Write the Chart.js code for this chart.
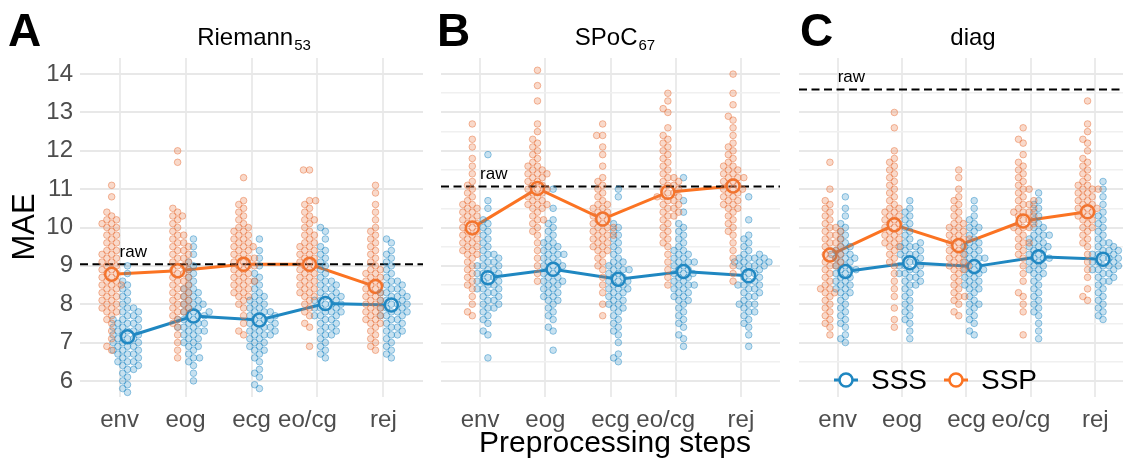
<!DOCTYPE html>
<html>
<head>
<meta charset="utf-8">
<script src="https://cdn.jsdelivr.net/npm/chart.js@4.4.1/dist/chart.umd.min.js"></script>
<style>
    html, body { margin: 0; padding: 0; background: #fff; overflow: hidden; }
    #wrap { position: relative; width: 1132px; height: 460px; }
    canvas { position: absolute; top: 0; }
</style>
</head>
<body>
<div id="wrap">
    <canvas id="panel-a" width="432" height="460" style="left:0"></canvas>
    <canvas id="panel-b" width="357" height="460" style="left:432px"></canvas>
    <canvas id="panel-c" width="342" height="460" style="left:790px"></canvas>
</div>
<script>
const steps = ['env', 'eog', 'ecg', 'eo/cg', 'rej'];
const yTicks = [6, 6.5, 7, 7.5, 8, 8.5, 9, 9.5, 10, 10.5, 11, 11.5, 12, 12.5, 13, 13.5, 14];

// per-subject MAE, one list per preprocessing step (env, eog, ecg, eo/cg, rej)
const riemannSSP = [
    [6.8, 6.9, 7.1, 7.3, 7.5, 7.6, 7.7, 7.8, 7.8, 7.9, 7.9, 8.0, 8.0, 8.1, 8.1, 8.2, 8.2, 8.3, 8.3, 8.4, 8.4, 8.5, 8.5, 8.5, 8.6, 8.6, 8.7, 8.7, 8.8, 8.8, 8.9, 8.9, 9.0, 9.0, 9.1, 9.1, 9.2, 9.2, 9.3, 9.3, 9.4, 9.4, 9.5, 9.6, 9.6, 9.7, 9.8, 9.8, 9.9, 10.0, 10.0, 10.1, 10.1, 10.2, 10.2, 10.3, 10.4, 10.8, 11.1],
    [6.6, 6.8, 7.0, 7.2, 7.4, 7.5, 7.6, 7.7, 7.8, 7.8, 7.9, 7.9, 8.0, 8.0, 8.1, 8.1, 8.2, 8.2, 8.3, 8.3, 8.4, 8.4, 8.5, 8.5, 8.6, 8.6, 8.7, 8.7, 8.8, 8.8, 8.9, 8.9, 9.0, 9.0, 9.1, 9.1, 9.2, 9.2, 9.3, 9.3, 9.4, 9.4, 9.5, 9.5, 9.6, 9.6, 9.7, 9.8, 9.8, 9.9, 10.0, 10.1, 10.2, 10.3, 10.3, 10.4, 10.5, 11.7, 12.0],
    [7.2, 7.3, 7.5, 7.7, 7.9, 8.0, 8.1, 8.2, 8.2, 8.3, 8.3, 8.4, 8.4, 8.5, 8.5, 8.6, 8.6, 8.6, 8.7, 8.7, 8.8, 8.8, 8.9, 8.9, 9.0, 9.0, 9.0, 9.1, 9.1, 9.2, 9.2, 9.2, 9.3, 9.3, 9.4, 9.4, 9.5, 9.5, 9.5, 9.6, 9.6, 9.7, 9.7, 9.8, 9.8, 9.9, 9.9, 10.0, 10.0, 10.1, 10.2, 10.3, 10.4, 10.5, 10.6, 10.7, 11.3],
    [6.9, 7.4, 7.5, 7.7, 7.8, 7.9, 8.0, 8.1, 8.2, 8.2, 8.3, 8.3, 8.4, 8.4, 8.5, 8.5, 8.6, 8.6, 8.7, 8.7, 8.8, 8.8, 8.9, 8.9, 9.0, 9.0, 9.1, 9.1, 9.2, 9.2, 9.3, 9.3, 9.4, 9.4, 9.5, 9.5, 9.6, 9.6, 9.7, 9.8, 9.8, 9.9, 10.0, 10.1, 10.2, 10.2, 10.3, 10.4, 10.5, 10.6, 10.7, 10.7, 11.5, 11.5],
    [6.8, 6.9, 7.0, 7.1, 7.2, 7.3, 7.4, 7.5, 7.5, 7.6, 7.6, 7.7, 7.7, 7.8, 7.8, 7.9, 7.9, 8.0, 8.0, 8.1, 8.1, 8.2, 8.2, 8.3, 8.3, 8.4, 8.4, 8.5, 8.5, 8.6, 8.6, 8.7, 8.7, 8.8, 8.8, 8.9, 8.9, 9.0, 9.1, 9.2, 9.3, 9.4, 9.5, 9.6, 9.7, 9.8, 9.9, 10.0, 10.2, 10.4, 10.6, 10.9, 11.1],
];
const riemannSSS = [
    [5.7, 5.8, 5.9, 6.0, 6.1, 6.2, 6.3, 6.3, 6.4, 6.4, 6.5, 6.5, 6.5, 6.6, 6.6, 6.7, 6.7, 6.7, 6.8, 6.8, 6.8, 6.9, 6.9, 6.9, 7.0, 7.0, 7.0, 7.1, 7.1, 7.1, 7.2, 7.2, 7.2, 7.3, 7.3, 7.3, 7.4, 7.4, 7.4, 7.5, 7.5, 7.5, 7.6, 7.6, 7.6, 7.7, 7.7, 7.8, 7.8, 7.9, 7.9, 8.0, 8.1, 8.2, 8.3, 8.4, 8.5, 8.6, 8.8, 9.0],
    [6.0, 6.2, 6.4, 6.5, 6.6, 6.6, 6.7, 6.8, 6.9, 6.9, 7.0, 7.0, 7.1, 7.1, 7.2, 7.2, 7.3, 7.3, 7.3, 7.4, 7.4, 7.4, 7.5, 7.5, 7.5, 7.6, 7.6, 7.6, 7.7, 7.7, 7.7, 7.8, 7.8, 7.8, 7.9, 7.9, 8.0, 8.0, 8.0, 8.1, 8.1, 8.2, 8.2, 8.3, 8.3, 8.4, 8.4, 8.5, 8.6, 8.7, 8.8, 8.9, 9.0, 9.1, 9.3, 9.5, 9.7],
    [5.8, 5.9, 6.1, 6.2, 6.3, 6.5, 6.6, 6.7, 6.8, 6.8, 6.9, 6.9, 7.0, 7.0, 7.1, 7.1, 7.2, 7.2, 7.2, 7.3, 7.3, 7.3, 7.4, 7.4, 7.4, 7.5, 7.5, 7.5, 7.6, 7.6, 7.6, 7.7, 7.7, 7.7, 7.8, 7.8, 7.8, 7.9, 7.9, 8.0, 8.0, 8.1, 8.1, 8.2, 8.2, 8.3, 8.4, 8.5, 8.6, 8.7, 8.8, 9.0, 9.2, 9.4, 9.7],
    [6.6, 6.7, 6.8, 6.9, 7.0, 7.1, 7.2, 7.2, 7.3, 7.3, 7.4, 7.4, 7.5, 7.5, 7.6, 7.6, 7.7, 7.7, 7.7, 7.8, 7.8, 7.8, 7.9, 7.9, 7.9, 8.0, 8.0, 8.0, 8.1, 8.1, 8.1, 8.2, 8.2, 8.2, 8.3, 8.3, 8.4, 8.4, 8.5, 8.5, 8.6, 8.6, 8.7, 8.8, 8.9, 9.0, 9.1, 9.2, 9.3, 9.4, 9.5, 9.7, 9.9, 10.0],
    [6.6, 6.7, 6.8, 6.9, 7.0, 7.1, 7.2, 7.2, 7.3, 7.3, 7.4, 7.4, 7.5, 7.5, 7.6, 7.6, 7.7, 7.7, 7.7, 7.8, 7.8, 7.8, 7.9, 7.9, 7.9, 8.0, 8.0, 8.0, 8.1, 8.1, 8.1, 8.2, 8.2, 8.2, 8.3, 8.3, 8.3, 8.4, 8.4, 8.5, 8.5, 8.6, 8.6, 8.7, 8.8, 8.9, 9.0, 9.1, 9.2, 9.3, 9.4, 9.6, 9.7],
];
const spocSSP = [
    [7.7, 7.8, 8.0, 8.2, 8.4, 8.5, 8.6, 8.7, 8.8, 8.9, 9.0, 9.1, 9.2, 9.3, 9.3, 9.4, 9.4, 9.5, 9.5, 9.6, 9.6, 9.7, 9.7, 9.8, 9.8, 9.9, 9.9, 10.0, 10.0, 10.1, 10.1, 10.2, 10.2, 10.3, 10.3, 10.4, 10.4, 10.5, 10.5, 10.6, 10.6, 10.7, 10.8, 10.9, 11.0, 11.1, 11.2, 11.4, 11.6, 11.8, 12.1, 12.3, 12.7],
    [8.6, 8.8, 9.0, 9.2, 9.4, 9.6, 9.8, 9.9, 10.0, 10.1, 10.2, 10.2, 10.3, 10.4, 10.5, 10.5, 10.6, 10.6, 10.6, 10.7, 10.7, 10.8, 10.8, 10.9, 10.9, 11.0, 11.0, 11.0, 11.1, 11.1, 11.2, 11.2, 11.3, 11.3, 11.4, 11.4, 11.4, 11.5, 11.5, 11.6, 11.6, 11.7, 11.8, 11.9, 12.0, 12.1, 12.2, 12.3, 12.5, 12.7, 13.3, 13.7, 14.1],
    [7.7, 8.0, 8.3, 8.5, 8.7, 8.9, 9.0, 9.1, 9.2, 9.3, 9.4, 9.4, 9.5, 9.5, 9.6, 9.6, 9.7, 9.7, 9.8, 9.8, 9.8, 9.9, 9.9, 10.0, 10.0, 10.0, 10.1, 10.1, 10.2, 10.2, 10.3, 10.3, 10.4, 10.4, 10.5, 10.5, 10.6, 10.6, 10.7, 10.8, 10.9, 11.0, 11.1, 11.2, 11.3, 11.6, 11.9, 12.1, 12.4, 12.4, 12.7],
    [8.5, 8.7, 8.9, 9.1, 9.3, 9.5, 9.6, 9.7, 9.8, 9.9, 10.0, 10.1, 10.2, 10.3, 10.3, 10.4, 10.4, 10.5, 10.5, 10.6, 10.6, 10.7, 10.7, 10.8, 10.8, 10.8, 10.9, 10.9, 11.0, 11.0, 11.1, 11.1, 11.2, 11.2, 11.3, 11.3, 11.4, 11.5, 11.6, 11.7, 11.8, 11.9, 12.0, 12.1, 12.2, 12.3, 12.4, 12.6, 13.0, 13.1, 13.3, 13.5],
    [8.6, 8.8, 9.0, 9.2, 9.4, 9.6, 9.8, 9.9, 10.0, 10.1, 10.2, 10.3, 10.4, 10.5, 10.5, 10.6, 10.6, 10.7, 10.7, 10.8, 10.8, 10.9, 10.9, 11.0, 11.0, 11.0, 11.1, 11.1, 11.2, 11.2, 11.3, 11.3, 11.3, 11.4, 11.4, 11.5, 11.5, 11.6, 11.6, 11.7, 11.8, 11.9, 12.0, 12.1, 12.2, 12.4, 12.6, 12.8, 12.9, 13.2, 13.5, 14.0],
];
const spocSSS = [
    [6.6, 7.2, 7.3, 7.5, 7.6, 7.7, 7.8, 7.9, 7.9, 8.0, 8.0, 8.1, 8.1, 8.2, 8.2, 8.3, 8.3, 8.4, 8.4, 8.4, 8.5, 8.5, 8.6, 8.6, 8.6, 8.7, 8.7, 8.8, 8.8, 8.8, 8.9, 8.9, 9.0, 9.0, 9.0, 9.1, 9.1, 9.2, 9.2, 9.3, 9.3, 9.4, 9.5, 9.6, 9.7, 9.8, 9.9, 10.0, 10.1, 10.2, 10.5, 10.7, 11.9],
    [6.8, 7.3, 7.4, 7.6, 7.7, 7.8, 7.9, 8.0, 8.1, 8.1, 8.2, 8.2, 8.3, 8.3, 8.4, 8.4, 8.5, 8.5, 8.6, 8.6, 8.6, 8.7, 8.7, 8.8, 8.8, 8.9, 8.9, 9.0, 9.0, 9.0, 9.1, 9.1, 9.2, 9.2, 9.3, 9.3, 9.3, 9.4, 9.4, 9.5, 9.5, 9.6, 9.6, 9.7, 9.8, 9.9, 10.0, 10.1, 10.2, 10.5, 11.0],
    [6.5, 6.6, 6.7, 7.0, 7.2, 7.3, 7.4, 7.5, 7.6, 7.7, 7.8, 7.9, 7.9, 8.0, 8.0, 8.1, 8.1, 8.2, 8.2, 8.3, 8.3, 8.4, 8.4, 8.4, 8.5, 8.5, 8.6, 8.6, 8.6, 8.7, 8.7, 8.8, 8.8, 8.9, 8.9, 8.9, 9.0, 9.0, 9.1, 9.1, 9.2, 9.3, 9.4, 9.5, 9.6, 9.7, 9.8, 9.9, 10.0, 10.1, 10.8, 11.0],
    [6.9, 7.1, 7.2, 7.4, 7.5, 7.6, 7.7, 7.8, 7.9, 8.0, 8.1, 8.1, 8.2, 8.2, 8.3, 8.3, 8.4, 8.4, 8.5, 8.5, 8.5, 8.6, 8.6, 8.7, 8.7, 8.8, 8.8, 8.8, 8.9, 8.9, 9.0, 9.0, 9.1, 9.1, 9.1, 9.2, 9.2, 9.3, 9.3, 9.4, 9.4, 9.5, 9.6, 9.7, 9.8, 9.9, 10.0, 10.1, 10.4, 10.7, 11.3],
    [6.9, 7.2, 7.4, 7.5, 7.6, 7.7, 7.8, 7.8, 7.9, 8.0, 8.0, 8.0, 8.1, 8.2, 8.2, 8.3, 8.3, 8.4, 8.4, 8.5, 8.5, 8.5, 8.6, 8.6, 8.7, 8.7, 8.8, 8.8, 8.9, 8.9, 9.0, 9.0, 9.0, 9.0, 9.1, 9.1, 9.1, 9.1, 9.2, 9.2, 9.2, 9.2, 9.3, 9.3, 9.4, 9.5, 9.6, 9.7, 9.8, 10.2, 10.8],
];
const diagSSP = [
    [7.2, 7.4, 7.5, 7.6, 7.7, 7.8, 7.9, 8.0, 8.1, 8.2, 8.3, 8.3, 8.4, 8.4, 8.5, 8.6, 8.7, 8.8, 8.9, 9.0, 9.0, 9.1, 9.1, 9.2, 9.2, 9.3, 9.3, 9.4, 9.4, 9.5, 9.5, 9.6, 9.6, 9.7, 9.7, 9.8, 9.8, 9.9, 9.9, 10.0, 10.0, 10.1, 10.2, 10.3, 10.4, 10.5, 10.6, 10.7, 11.0, 11.7],
    [7.4, 7.6, 7.9, 8.2, 8.4, 8.6, 8.8, 9.0, 9.1, 9.2, 9.3, 9.4, 9.5, 9.5, 9.6, 9.6, 9.7, 9.7, 9.8, 9.8, 9.9, 9.9, 10.0, 10.0, 10.1, 10.1, 10.2, 10.2, 10.3, 10.3, 10.4, 10.4, 10.5, 10.5, 10.6, 10.7, 10.8, 10.9, 11.0, 11.1, 11.2, 11.3, 11.4, 11.5, 11.6, 11.7, 11.8, 12.0, 12.6, 13.0],
    [7.7, 7.8, 8.0, 8.1, 8.2, 8.2, 8.3, 8.4, 8.5, 8.6, 8.7, 8.8, 8.9, 8.9, 9.0, 9.0, 9.0, 9.1, 9.1, 9.2, 9.2, 9.3, 9.3, 9.4, 9.4, 9.5, 9.5, 9.6, 9.6, 9.7, 9.7, 9.7, 9.8, 9.8, 9.9, 9.9, 10.0, 10.0, 10.1, 10.1, 10.2, 10.3, 10.4, 10.5, 10.6, 10.7, 10.8, 11.0, 11.3, 11.5],
    [7.2, 7.8, 8.0, 8.2, 8.3, 8.6, 8.8, 9.0, 9.2, 9.3, 9.4, 9.5, 9.6, 9.6, 9.7, 9.8, 9.9, 10.0, 10.0, 10.0, 10.1, 10.1, 10.2, 10.2, 10.3, 10.3, 10.4, 10.4, 10.4, 10.5, 10.5, 10.6, 10.6, 10.7, 10.7, 10.8, 10.9, 11.0, 11.0, 11.1, 11.2, 11.3, 11.4, 11.5, 11.6, 11.7, 11.9, 12.2, 12.3, 12.6],
    [8.1, 8.2, 8.4, 8.7, 8.9, 9.1, 9.3, 9.5, 9.6, 9.7, 9.8, 9.9, 10.0, 10.0, 10.1, 10.2, 10.2, 10.3, 10.3, 10.4, 10.4, 10.5, 10.5, 10.5, 10.6, 10.6, 10.7, 10.7, 10.8, 10.8, 10.9, 10.9, 11.0, 11.0, 11.0, 11.1, 11.1, 11.2, 11.3, 11.4, 11.5, 11.6, 11.7, 11.8, 12.0, 12.2, 12.3, 12.5, 12.7, 13.3],
];
const diagSSS = [
    [7.0, 7.1, 7.2, 7.4, 7.5, 7.6, 7.7, 7.8, 7.9, 8.0, 8.1, 8.2, 8.3, 8.3, 8.4, 8.4, 8.5, 8.5, 8.6, 8.6, 8.7, 8.7, 8.8, 8.8, 8.9, 8.9, 8.9, 9.0, 9.0, 9.1, 9.1, 9.2, 9.2, 9.2, 9.3, 9.3, 9.3, 9.4, 9.4, 9.5, 9.5, 9.6, 9.7, 9.8, 9.9, 10.0, 10.1, 10.3, 10.5, 10.8],
    [7.1, 7.3, 7.5, 7.6, 7.7, 7.8, 7.9, 8.0, 8.1, 8.2, 8.3, 8.4, 8.5, 8.5, 8.6, 8.6, 8.7, 8.7, 8.8, 8.8, 8.8, 8.9, 8.9, 9.0, 9.0, 9.0, 9.1, 9.1, 9.2, 9.2, 9.3, 9.3, 9.3, 9.4, 9.4, 9.5, 9.5, 9.5, 9.6, 9.6, 9.7, 9.8, 9.9, 10.0, 10.1, 10.2, 10.3, 10.4, 10.5, 10.7],
    [7.2, 7.3, 7.5, 7.6, 7.7, 7.8, 7.9, 8.0, 8.0, 8.1, 8.2, 8.3, 8.4, 8.4, 8.5, 8.5, 8.6, 8.6, 8.7, 8.7, 8.8, 8.8, 8.9, 8.9, 8.9, 9.0, 9.0, 9.1, 9.1, 9.2, 9.2, 9.2, 9.3, 9.3, 9.4, 9.4, 9.5, 9.5, 9.6, 9.6, 9.7, 9.8, 9.9, 10.0, 10.0, 10.1, 10.2, 10.3, 10.5, 10.7],
    [7.1, 7.3, 7.5, 7.7, 7.8, 7.9, 8.0, 8.1, 8.2, 8.3, 8.4, 8.5, 8.6, 8.7, 8.8, 8.8, 8.9, 8.9, 9.0, 9.0, 9.1, 9.1, 9.2, 9.2, 9.2, 9.3, 9.3, 9.4, 9.4, 9.5, 9.5, 9.5, 9.6, 9.6, 9.7, 9.7, 9.8, 9.8, 9.8, 9.9, 10.0, 10.0, 10.1, 10.2, 10.3, 10.4, 10.5, 10.6, 10.7, 10.9],
    [7.6, 7.7, 7.8, 7.9, 8.0, 8.1, 8.2, 8.3, 8.4, 8.5, 8.6, 8.6, 8.7, 8.7, 8.8, 8.8, 8.9, 8.9, 8.9, 9.0, 9.0, 9.0, 9.1, 9.1, 9.1, 9.2, 9.2, 9.2, 9.3, 9.3, 9.3, 9.4, 9.4, 9.4, 9.5, 9.5, 9.6, 9.6, 9.7, 9.8, 9.9, 10.0, 10.1, 10.2, 10.3, 10.4, 10.6, 10.8, 11.0, 11.2],
];

// averages drawn as the connected white markers
const riemannSSPMean = [8.78, 8.87, 9.04, 9.04, 8.46];
const riemannSSSMean = [7.15, 7.69, 7.59, 8.02, 7.98];
const spocSSPMean = [9.99, 11.02, 10.22, 10.92, 11.08];
const spocSSSMean = [8.69, 8.91, 8.65, 8.85, 8.74];
const diagSSPMean = [9.28, 10.07, 9.53, 10.17, 10.41];
const diagSSSMean = [8.85, 9.08, 8.98, 9.24, 9.17];

// no-preprocessing baseline (dashed line)
const rawRiemann = 9.04;
const rawSpoc = 11.07;
const rawDiag = 13.6;

const FONT = '"Liberation Sans", Arial, Helvetica, sans-serif';
const GREY_TEXT = '#4d4d4d';
const BLUE = '#1f87c1';
const ORANGE = '#fb7322';
const DODGE = 0.12;
const X_MIN = -0.6;
const X_MAX = 4.6;

// beeswarm packing, done in approx pixel units then mapped back to category units
const PX_X = 67;
const PX_Y = 38.35;
const DOT = 6.2;

function swarmOffsets(values) {
    const order = values.map((v, i) => i).sort((a, b) => values[a] - values[b]);
    const placed = [];
    const out = new Array(values.length);
    for (const i of order) {
        const y = values[i] * PX_Y;
        const blocked = [];
        for (const p of placed) {
            const dy = Math.abs(y - p.y);
            if (dy < DOT) {
                const w = Math.sqrt(DOT * DOT - dy * dy);
                blocked.push([p.x - w, p.x + w]);
            }
        }
        const cands = [0];
        blocked.forEach(([a, b]) => cands.push(a, b));
        cands.sort((a, b) => Math.abs(a) - Math.abs(b));
        const x = cands.find((c) => blocked.every(([a, b]) => c <= a + 1e-6 || c >= b - 1e-6));
        placed.push({ x, y });
        out[i] = x / PX_X;
    }
    return out;
}

function swarmPoints(groups, dodge) {
    const pts = [];
    groups.forEach((vals, k) => {
        const off = swarmOffsets(vals);
        vals.forEach((v, i) => pts.push({ x: k + dodge + off[i], y: v }));
    });
    return pts;
}

function meanPoints(means, dodge) {
    return means.map((v, k) => ({ x: k + dodge, y: v }));
}

const panelText = {
    id: 'panelText',
    afterDraw(chart, args, opts) {
        const { ctx, chartArea, scales } = chart;
        ctx.save();
        ctx.fillStyle = '#000';
        ctx.textAlign = 'left';
        ctx.textBaseline = 'alphabetic';

        ctx.font = `bold 46px ${FONT}`;
        ctx.fillText(opts.letter, opts.letterX, 46);

        const cx = chartArea.left + 174;
        ctx.font = `24px ${FONT}`;
        const w1 = ctx.measureText(opts.title).width;
        ctx.font = `15px ${FONT}`;
        const w2 = opts.sub ? ctx.measureText(opts.sub).width + 1 : 0;
        const x0 = cx - (w1 + w2) / 2;
        ctx.font = `24px ${FONT}`;
        ctx.fillText(opts.title, x0, 45);
        if (opts.sub) {
            ctx.font = `15px ${FONT}`;
            ctx.fillText(opts.sub, x0 + w1 + 1, 50);
        }

        ctx.font = `17px ${FONT}`;
        ctx.fillText('raw', scales.x.getPixelForValue(0), scales.y.getPixelForValue(opts.raw) - 7);

        if (opts.yTitle) {
            ctx.save();
            ctx.translate(25, 227);
            ctx.rotate(-Math.PI / 2);
            ctx.textAlign = 'center';
            ctx.textBaseline = 'middle';
            ctx.font = `31px ${FONT}`;
            ctx.fillText(opts.yTitle, 0, 0);
            ctx.restore();
        }

        if (opts.xTitle) {
            ctx.textAlign = 'center';
            ctx.font = `30px ${FONT}`;
            ctx.fillText(opts.xTitle, cx, 452);
            ctx.textAlign = 'left';
        }

        if (opts.legend) {
            const y = chartArea.bottom - 17;
            const items = [
                { label: 'SSS', color: BLUE, x: chartArea.left + 47 },
                { label: 'SSP', color: ORANGE, x: chartArea.left + 157 },
            ];
            items.forEach((it) => {
                ctx.strokeStyle = it.color;
                ctx.lineWidth = 3;
                ctx.beginPath();
                ctx.moveTo(it.x - 12, y);
                ctx.lineTo(it.x + 12, y);
                ctx.stroke();
                ctx.beginPath();
                ctx.arc(it.x, y, 6.5, 0, Math.PI * 2);
                ctx.fillStyle = '#fff';
                ctx.fill();
                ctx.lineWidth = 2.5;
                ctx.stroke();
                ctx.fillStyle = '#000';
                ctx.font = `28px ${FONT}`;
                ctx.textBaseline = 'middle';
                ctx.fillText(it.label, it.x + 25, y + 1);
            });
        }
        ctx.restore();
    },
};

function buildPanel(cfg) {
    const canvas = document.getElementById(cfg.canvasId);
    return new Chart(canvas, {
        type: 'scatter',
        data: {
            datasets: [
                {
                    label: 'SSP subjects',
                    data: swarmPoints(cfg.ssp, -DODGE),
                    pointRadius: 3.3,
                    pointBorderWidth: 1,
                    backgroundColor: 'rgba(232, 118, 66, 0.28)',
                    borderColor: 'rgba(232, 118, 66, 0.5)',
                },
                {
                    label: 'SSS subjects',
                    data: swarmPoints(cfg.sss, DODGE),
                    pointRadius: 3.3,
                    pointBorderWidth: 1,
                    backgroundColor: 'rgba(38, 138, 196, 0.26)',
                    borderColor: 'rgba(38, 138, 196, 0.48)',
                },
                {
                    label: 'raw',
                    data: [{ x: X_MIN, y: cfg.raw }, { x: X_MAX, y: cfg.raw }],
                    showLine: true,
                    borderColor: '#000',
                    borderWidth: 2,
                    borderDash: [8, 4.5],
                    pointRadius: 0,
                },
                {
                    label: 'SSS',
                    data: meanPoints(cfg.sssMean, DODGE),
                    showLine: true,
                    borderColor: BLUE,
                    borderWidth: 3,
                    pointRadius: 6.5,
                    pointBorderWidth: 2.5,
                    pointBackgroundColor: '#fff',
                    pointBorderColor: BLUE,
                },
                {
                    label: 'SSP',
                    data: meanPoints(cfg.sspMean, -DODGE),
                    showLine: true,
                    borderColor: ORANGE,
                    borderWidth: 3,
                    pointRadius: 6.5,
                    pointBorderWidth: 2.5,
                    pointBackgroundColor: '#fff',
                    pointBorderColor: ORANGE,
                },
            ],
        },
        options: {
            responsive: false,
            animation: false,
            events: [],
            layout: { padding: { top: 58, right: cfg.padRight, left: 0, bottom: 0 } },
            scales: {
                x: {
                    type: 'linear',
                    min: X_MIN,
                    max: cfg.xMax,
                    afterBuildTicks: (s) => { s.ticks = steps.map((_, i) => ({ value: i })); },
                    afterFit: (s) => { s.height = 63; },
                    grid: { color: '#ebebeb', lineWidth: 2, drawTicks: false },
                    border: { display: false },
                    ticks: {
                        autoSkip: false,
                        maxRotation: 0,
                        padding: 9,
                        color: GREY_TEXT,
                        font: { family: FONT, size: 24 },
                        // the long label sits a little left of its step in the original
                        callback: (v) => (steps[v] === 'eo/cg' ? steps[v] + '   ' : steps[v]),
                    },
                },
                y: {
                    min: 5.58,
                    max: 14.42,
                    afterBuildTicks: (s) => { s.ticks = yTicks.map((v) => ({ value: v })); },
                    afterFit: (s) => { s.width = cfg.yWidth; },
                    grid: {
                        drawTicks: false,
                        color: (c) => (c.tick && c.tick.value % 1 === 0 ? '#e8e8e8' : '#f0f0f0'),
                        lineWidth: (c) => (c.tick && c.tick.value % 1 === 0 ? 2 : 1.6),
                    },
                    border: { display: false },
                    ticks: {
                        display: cfg.yLabels,
                        padding: 7,
                        color: GREY_TEXT,
                        font: { family: FONT, size: 24 },
                        callback: (v) => (v % 1 === 0 ? String(v) : ''),
                    },
                },
            },
            plugins: {
                legend: { display: false },
                tooltip: { enabled: false },
                panelText: {
                    letter: cfg.letter,
                    letterX: cfg.letterX,
                    title: cfg.title,
                    sub: cfg.sub,
                    raw: cfg.raw,
                    yTitle: cfg.yTitle,
                    xTitle: cfg.xTitle,
                    legend: cfg.legend,
                },
            },
        },
        plugins: [panelText],
    });
}

buildPanel({
    canvasId: 'panel-a', letter: 'A', letterX: 8, title: 'Riemann', sub: '53',
    ssp: riemannSSP, sss: riemannSSS, sspMean: riemannSSPMean, sssMean: riemannSSSMean, raw: rawRiemann,
    yLabels: true, yWidth: 80, padRight: 4, xMax: X_MAX, yTitle: 'MAE',
});
buildPanel({
    canvasId: 'panel-b', letter: 'B', letterX: 5, title: 'SPoC', sub: '67',
    ssp: spocSSP, sss: spocSSS, sspMean: spocSSPMean, sssMean: spocSSSMean, raw: rawSpoc,
    yLabels: false, yWidth: 5, padRight: 4, xMax: X_MAX, xTitle: 'Preprocessing steps',
});
buildPanel({
    canvasId: 'panel-c', letter: 'C', letterX: 10, title: 'diag', sub: '',
    ssp: diagSSP, sss: diagSSS, sspMean: diagSSPMean, sssMean: diagSSSMean, raw: rawDiag,
    yLabels: false, yWidth: 5, padRight: 0, xMax: 4.43, legend: true,
});
</script>
</body>
</html>
